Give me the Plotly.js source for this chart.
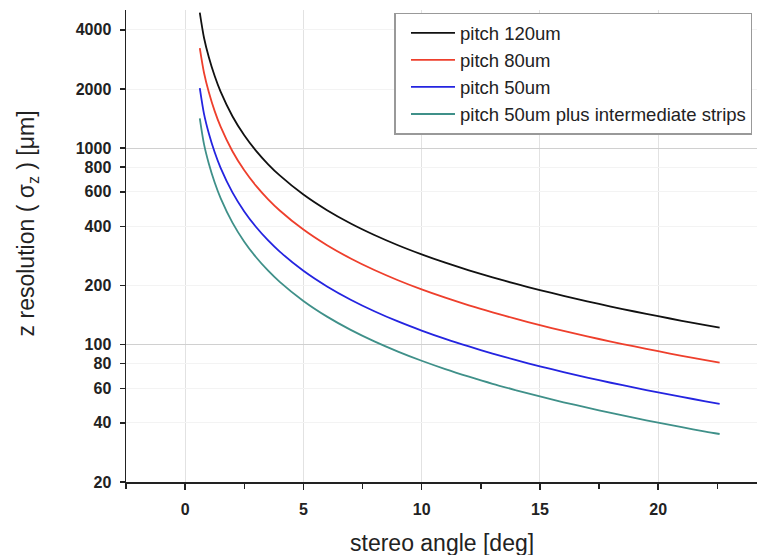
<!DOCTYPE html>
<html>
<head>
<meta charset="utf-8">
<script src="https://cdn.plot.ly/plotly-3.0.1.min.js"></script>
<style>html,body{margin:0;padding:0;background:#fff;}#chart{width:757px;height:555px;}</style>
</head>
<body>
<div id="chart"></div>
<script>
const angles = [0.62, 0.8, 1, 1.25, 1.5, 2, 2.5, 3, 3.5, 4, 5, 6, 7, 8, 9, 10, 11, 12, 13, 14, 15, 16, 17, 18, 19, 20, 21, 22, 22.6];
const pitch120 = [4900, 3638, 2910, 2328, 1940, 1454.7, 1163.5, 969.3, 830.6, 726.5, 580.6, 483.3, 413.7, 361.5, 320.7, 288.1, 261.3, 239.0, 220.0, 203.7, 189.6, 177.2, 166.2, 156.3, 147.5, 139.6, 132.3, 125.7, 122.0];
const pitch80 = [3230, 2414, 1931, 1544, 1287, 965.0, 771.9, 643.0, 551.0, 481.9, 385.2, 320.6, 274.5, 239.8, 212.8, 191.1, 173.4, 158.5, 146.0, 135.2, 125.8, 117.5, 110.2, 103.7, 97.9, 92.6, 87.8, 83.4, 81.0];
const pitch50 = [2020, 1490, 1191.6, 953.3, 794.3, 595.6, 476.4, 396.9, 340.1, 297.5, 237.7, 197.9, 169.4, 148.0, 131.3, 118.0, 107.0, 97.9, 90.1, 83.4, 77.6, 72.5, 68.0, 64.0, 60.4, 57.1, 54.2, 51.5, 50.0];
const pitch50inter = [1420, 1046, 836.4, 669.1, 557.5, 418.1, 334.4, 278.6, 238.7, 208.8, 166.9, 138.9, 118.9, 103.9, 92.2, 82.8, 75.1, 68.7, 63.2, 58.6, 54.5, 50.9, 47.8, 44.9, 42.4, 40.1, 38.0, 36.1, 35.1];
const seriesNames = ["pitch 120um", "pitch 80um", "pitch 50um", "pitch 50um plus intermediate strips"];
const seriesColors = ["#111111", "#ee3f2c", "#2424e0", "#3f9089"];
const yTickVals = [20, 40, 60, 80, 100, 200, 400, 600, 800, 1000, 2000, 4000];
const yTickText = ["20", "40", "60", "80", "100", "200", "400", "600", "800", "1000", "2000", "4000"];
const yMajorGrid = [100, 1000];
const xTickVals = [0, 5, 10, 15, 20];
const xTitle = 'stereo angle [deg]';
const yTitle = 'z resolution ( σ<sub>z</sub> ) [μm]';

const allSeries = [pitch120, pitch80, pitch50, pitch50inter];
const traces = allSeries.map((ys, i) => ({
  x: angles, y: ys, type: 'scatter', mode: 'lines', name: seriesNames[i],
  line: {color: seriesColors[i], width: 1.8, shape: 'spline', smoothing: 0.8}
}));

const fam = 'Liberation Sans, Arial, sans-serif';
const yr = [Math.log10(20), Math.log10(5050)];
const layout = {
  width: 757, height: 555,
  margin: {l: 126, r: 0, t: 10, b: 73, autoexpand: false},
  paper_bgcolor: '#fff', plot_bgcolor: '#fff',
  showlegend: true,
  legend: {
    x: 0.4255, y: 0.994, xanchor: 'left', yanchor: 'top',
    bgcolor: '#fff', bordercolor: '#999999', borderwidth: 1.5,
    font: {family: fam, size: 18.5, color: '#222'},
    itemwidth: 44, indentation: 10, tracegroupgap: 0
  },
  xaxis: {
    range: [-2.5, 24.18], tickmode: 'array', tickvals: xTickVals,
    ticks: 'outside', ticklen: 6, tickwidth: 1.5, tickcolor: '#222',
    showline: true, linecolor: '#222', linewidth: 1.5,
    showgrid: true, gridcolor: '#e2e2e2', gridwidth: 1, zeroline: false,
    tickfont: {family: fam, size: 16, color: '#222', weight: 'bold'},
    ticklabelstandoff: 6,
    minor: {tickmode: 'linear', tick0: 0, dtick: 2.5, ticks: 'outside', ticklen: 5, tickwidth: 1.5, tickcolor: '#222', showgrid: false},
    automargin: false
  },
  yaxis: {
    type: 'log', range: yr, tickmode: 'array', tickvals: yTickVals, ticktext: yTickText,
    ticks: 'outside', ticklen: 5, tickwidth: 1.5, tickcolor: '#222',
    showline: true, linecolor: '#222', linewidth: 1.5,
    showgrid: true, gridcolor: '#f3f3f3', gridwidth: 1, zeroline: false,
    tickfont: {family: fam, size: 16, color: '#222', weight: 'bold'},
    ticklabelstandoff: 5,
    automargin: false
  },
  yaxis2: {
    type: 'log', range: yr, overlaying: 'y', tickmode: 'array', tickvals: yMajorGrid,
    showticklabels: false, ticks: '', showline: false, zeroline: false,
    showgrid: true, gridcolor: '#d0d0d0', gridwidth: 1, layer: 'below traces'
  },
  annotations: [
    {text: yTitle, xref: 'paper', yref: 'paper', x: -0.156, y: 0.547, xanchor: 'center', yanchor: 'middle',
     textangle: -90, showarrow: false, font: {family: fam, size: 23, color: '#222'}},
    {text: xTitle, xref: 'paper', yref: 'paper', x: 0.5, y: -0.13, xanchor: 'center', yanchor: 'middle',
     showarrow: false, font: {family: fam, size: 23, color: '#222'}}
  ]
};
traces.push({x: [angles[0]], y: [pitch50[0]], yaxis: 'y2', mode: 'lines', showlegend: false, hoverinfo: 'skip', line: {color: 'rgba(0,0,0,0)'}});
Plotly.newPlot('chart', traces, layout, {displayModeBar: false, staticPlot: true});
</script>
</body>
</html>
